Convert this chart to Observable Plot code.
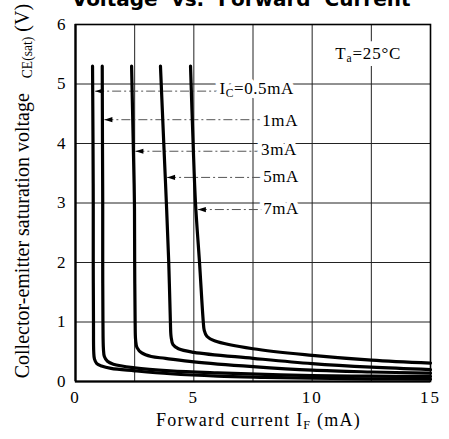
<!DOCTYPE html>
<html>
<head>
<meta charset="utf-8">
<script src="https://cdn.jsdelivr.net/npm/d3@7"></script>
<script src="https://cdn.jsdelivr.net/npm/@observablehq/plot@0.6"></script>
<style>
  html, body { margin: 0; padding: 0; background: #fff; }
</style>
</head>
<body>
<div id="chart"></div>
<script>
// ---- data ----
const seriesNames = ["0.5mA", "1mA", "3mA", "5mA", "7mA"];

const if05  = [0.72, 0.74, 0.75, 0.75, 0.76, 0.77, 0.80, 0.90, 1.10, 1.50, 2.5, 4, 6, 8, 10, 12.5, 15];
const vce05 = [5.30, 4.00, 3.00, 2.00, 1.00, 0.50, 0.38, 0.30, 0.26, 0.22, 0.18, 0.13, 0.09, 0.07, 0.055, 0.045, 0.04];

const if1  = [1.13, 1.14, 1.15, 1.15, 1.16, 1.18, 1.22, 1.35, 1.60, 2.5, 4, 6, 8, 10, 12.5, 15];
const vce1 = [5.30, 4.00, 3.00, 2.00, 1.00, 0.55, 0.42, 0.34, 0.29, 0.23, 0.18, 0.145, 0.12, 0.10, 0.09, 0.085];

const if3  = [2.37, 2.44, 2.49, 2.50, 2.52, 2.54, 2.60, 2.80, 3.20, 3.80, 5, 7.5, 10, 12.5, 15];
const vce3 = [5.30, 4.00, 3.00, 2.00, 1.00, 0.70, 0.57, 0.48, 0.42, 0.39, 0.33, 0.25, 0.19, 0.16, 0.14];

const if5  = [3.59, 3.73, 3.84, 3.94, 4.01, 4.04, 4.12, 4.35, 5, 7.5, 10, 12.5, 15];
const vce5 = [5.30, 4.00, 3.00, 2.00, 1.00, 0.75, 0.62, 0.55, 0.49, 0.39, 0.30, 0.24, 0.20];

const if7  = [4.86, 4.97, 5.07, 5.24, 5.40, 5.44, 5.55, 5.90, 7.5, 10, 12.5, 15];
const vce7 = [5.30, 4.00, 3.00, 2.00, 1.00, 0.86, 0.76, 0.68, 0.55, 0.44, 0.36, 0.31];

// curve labels and their leader arrows
const labelTexts = ["I_{C}=0.5mA", "1mA", "3mA", "5mA", "7mA"];
const labelX     = [6.08, 7.89, 7.84, 7.93, 7.93];
const labelY     = [4.835, 4.30, 3.80, 3.35, 2.82];
const arrowX     = [0.83, 1.22, 2.53, 3.87, 5.17];
const arrowY     = [4.88, 4.40, 3.87, 3.43, 2.89];
const leaderEndX = [6.0, 7.8, 7.75, 7.85, 7.85];

const xTicks = [0, 5, 10, 15];
const yTicks = [0, 1, 2, 3, 4, 5, 6];
const xGrid  = [2.5, 5, 7.5, 10, 12.5];
const yGrid  = [1, 2, 3, 4, 5];

const titleText = "Voltage  vs.  Forward  Current";
const xLabel = "Forward current I_{F} (mA)";
const yLabel = "Collector-emitter saturation voltage\u00a0\u00a0\u00a0_{CE(sat)} (V)";
const tempLabel = "T_{a}=25°C";

// ---- build tables ----
const curveX = [if05, if1, if3, if5, if7];
const curveY = [vce05, vce1, vce3, vce5, vce7];
const curves = seriesNames.flatMap((s, i) => curveX[i].map((x, j) => ({s, x, y: curveY[i][j]})));
const labels = labelTexts.map((t, i) => ({t, x: labelX[i], y: labelY[i]}));
const arrows = arrowX.map((x, i) => ({x, y: arrowY[i], x2: leaderEndX[i]}));

const arrowHead = {
  draw(ctx) {
    ctx.moveTo(0, 0);
    ctx.lineTo(8, -2.6);
    ctx.lineTo(8, 2.6);
    ctx.closePath();
  }
};

const serif = "'Liberation Serif', 'Times New Roman', serif";

const labelOpts = {x: "x", y: "y", text: "t", textAnchor: "start", lineAnchor: "bottom", fontSize: 17};
const tempOpts = {x: 10.98, y: 5.42, text: d => d, textAnchor: "start", lineAnchor: "bottom", fontSize: 17};

const chart = Plot.plot({
  width: 449,
  height: 439,
  marginLeft: 75,
  marginRight: 19,
  marginTop: 24,
  marginBottom: 58,
  style: {fontFamily: serif, fontSize: "17px", background: "#fff", color: "#000", overflow: "hidden"},
  x: {domain: [0, 15], ticks: xTicks, tickSize: 0, tickPadding: 9, tickFormat: d => String(d), label: null},
  y: {domain: [0, 6], ticks: yTicks, tickSize: 0, tickPadding: 10, tickFormat: d => String(d), label: null},
  marks: [
    Plot.ruleX(xGrid, {stroke: "#222", strokeWidth: 1}),
    Plot.ruleY(yGrid, {stroke: "#222", strokeWidth: 1}),
    // leader lines
    Plot.link(arrows, {x1: "x", y1: "y", x2: "x2", y2: "y", stroke: "#555", strokeWidth: 1, strokeDasharray: "9,3,2,3"}),
    // white backing behind labels
    Plot.text(labels, {...labelOpts, fill: "white", stroke: "white", strokeWidth: 9}),
    Plot.text([tempLabel], {...tempOpts, fill: "white", stroke: "white", strokeWidth: 14}),
    // labels
    Plot.text(labels, {...labelOpts, fill: "black"}),
    Plot.text([tempLabel], {...tempOpts, fill: "black"}),
    // curves
    Plot.line(curves, {x: "x", y: "y", z: "s", stroke: "black", strokeWidth: 3.2, curve: "catmull-rom"}),
    // arrow heads
    Plot.dot(arrows, {x: "x", y: "y", symbol: arrowHead, fill: "black", stroke: null}),
    // frame
    Plot.frame({stroke: "black", strokeWidth: 1.6}),
    Plot.ruleX([0], {stroke: "black", strokeWidth: 2.2}),
    Plot.ruleY([0], {stroke: "black", strokeWidth: 2.2}),
    // title (partially cut off at top like the reference)
    Plot.text([titleText], {x: 7.0, frameAnchor: "top", dy: -19, text: d => d, textAnchor: "middle", lineAnchor: "bottom",
      fontFamily: "'DejaVu Sans', sans-serif", fontWeight: "bold", fontSize: 20}),
    // axis labels
    Plot.text([xLabel], {x: 7.73, frameAnchor: "bottom", dy: 44, text: d => d, textAnchor: "middle", lineAnchor: "bottom", fontSize: 18}),
    Plot.text([yLabel], {y: 3.2, frameAnchor: "left", dx: -47, rotate: -90, text: d => d, textAnchor: "middle", lineAnchor: "bottom", fontSize: 20})
  ]
});

// letter spacing tweaks to match the wide typesetting of the reference
d3.select(chart).selectAll("text").each(function() {
  const t = this.textContent;
  if (t === xLabel) d3.select(this).attr("letter-spacing", 1.2);
  if (t === tempLabel) d3.select(this).attr("letter-spacing", 0.8);
  if (labelTexts.includes(t)) d3.select(this).attr("letter-spacing", 0.6);
});
// x tick labels slightly spaced
d3.select(chart).selectAll("g[aria-label='x-axis tick label'] text").attr("letter-spacing", 2);

// turn _{...} markers into real subscript tspans
d3.select(chart).selectAll("text").each(function() {
  const t = this.textContent;
  if (!t.includes("_{")) return;
  const el = d3.select(this);
  el.text(null);
  const parts = t.split(/(_\{[^}]*\})/).filter(p => p);
  let shifted = false;
  for (const p of parts) {
    if (p.startsWith("_{")) {
      el.append("tspan").attr("font-size", "0.68em").attr("dy", 3).text(p.slice(2, -1));
      shifted = true;
    } else {
      el.append("tspan").attr("dy", shifted ? -3 : null).text(p);
      shifted = false;
    }
  }
});

document.getElementById("chart").appendChild(chart);
</script>
</body>
</html>
